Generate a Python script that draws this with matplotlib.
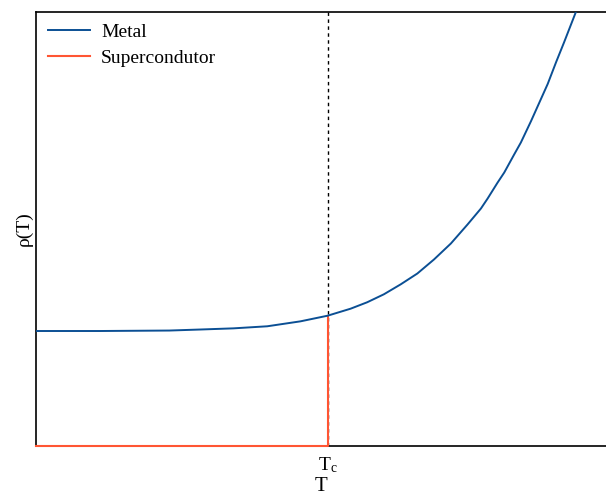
import matplotlib
matplotlib.use('Agg')
import matplotlib.pyplot as plt

plt.rcParams['font.family'] = ['Liberation Serif', 'DejaVu Serif']
plt.rcParams['mathtext.fontset'] = 'stix'

# curva do metal (T em unidades de Tc)
T_metal = [0.0, 0.220, 0.457, 0.564, 0.677, 0.793, 0.907, 1.0, 1.079, 1.136,
           1.193, 1.251, 1.308, 1.365, 1.423, 1.480, 1.526, 1.549, 1.583,
           1.606, 1.640, 1.663, 1.698, 1.718, 1.755, 1.784, 1.811, 1.850, 1.863]
rho_metal = [1.0, 1.0, 1.004, 1.013, 1.023, 1.041, 1.084, 1.133, 1.194, 1.250,
             1.319, 1.406, 1.500, 1.622, 1.761, 1.926, 2.065, 2.152, 2.290,
             2.378, 2.535, 2.639, 2.826, 2.939, 3.148, 3.339, 3.509, 3.763, 3.852]

Tc = 1.0
rho_Tc = 1.133
T_super = [0.0, Tc, Tc]
rho_super = [0.0, 0.0, rho_Tc]

fig = plt.figure(figsize=(6.06, 4.96), dpi=100)
ax = fig.add_axes([36 / 606, 50 / 496, 570 / 606, 434 / 496])

ax.axvline(Tc, color='black', linestyle=(0, (2.5, 2.5)), linewidth=1.0, zorder=1)
ax.plot(T_metal, rho_metal, color='#0b4f94', linewidth=1.4, label='Metal', zorder=4)
ax.plot(T_super, rho_super, color='#ff5533', linewidth=1.5, label='Supercondutor',
        zorder=3, clip_on=False)

ax.set_xlim(0, 1.955)
ax.set_ylim(0, 3.774)
ax.set_xticks([Tc])
ax.set_xticklabels([r'$\mathregular{T_{c}}$'], fontsize=14)
ax.set_yticks([])
ax.tick_params(axis='x', length=0, pad=7)
ax.spines['right'].set_visible(False)
for s in ['left', 'bottom', 'top']:
    ax.spines[s].set_linewidth(1.2)

ax.set_xlabel('T', fontsize=15, labelpad=1)
ax.set_ylabel(r'ρ(T)', fontsize=14, labelpad=2)

ax.legend(loc='upper left', frameon=False, fontsize=14, handlelength=2.2,
          handletextpad=0.55, borderaxespad=0.2, labelspacing=0.4)

fig.savefig('out.png', dpi=100)
